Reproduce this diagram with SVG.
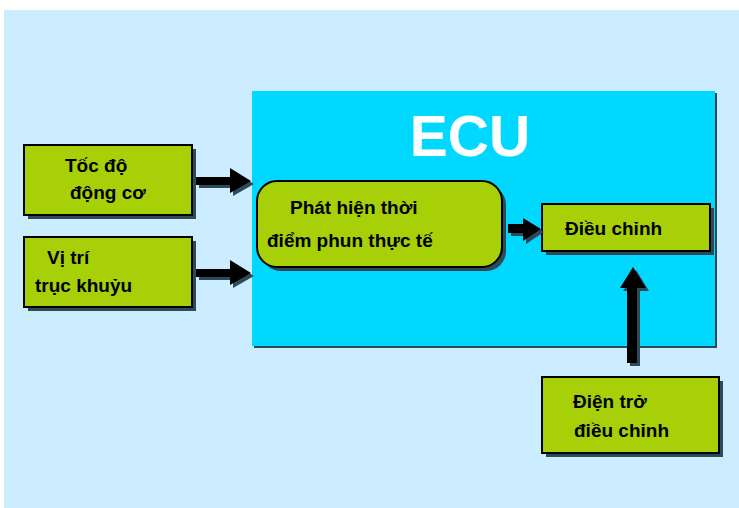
<svg xmlns="http://www.w3.org/2000/svg" width="739" height="508" viewBox="0 0 739 508">
  <style>
    .box { fill: #A8D008; stroke: #000; stroke-width: 2; }
    .shadow { fill: #2E4A58; }
    .lbl { font-family: "Liberation Sans", Arial, sans-serif; font-size: 19px; font-weight: bold; fill: #000; }
    .arrow { fill: #000; }
  </style>
  <defs>
    <polygon id="arrowRight" points="0,0 34,0 34,-9 55,4 34,16 34,8 0,8"/>
  </defs>

  <!-- page background -->
  <rect x="0" y="0" width="739" height="508" fill="#FFFFFF"/>
  <rect x="4" y="10" width="735" height="498" fill="#CCECFF"/>

  <!-- ECU block -->
  <g id="ecu">
    <rect x="254" y="93" width="463" height="255" class="shadow"/>
    <rect x="252" y="91" width="463" height="255" fill="#00D8FF"/>
    <text x="470" y="156" text-anchor="middle" font-family="Liberation Sans, Arial, sans-serif" font-size="57" font-weight="bold" fill="#FFFFFF">ECU</text>
  </g>

  <!-- inputs -->
  <g id="toc-do">
    <rect x="28" y="149" width="168" height="70" class="shadow"/>
    <rect x="24" y="145" width="168" height="70" class="box"/>
    <text x="65" y="172" class="lbl">Tốc độ</text>
    <text x="70" y="199" class="lbl">động cơ</text>
  </g>
  <g id="vi-tri">
    <rect x="28" y="241" width="168" height="70" class="shadow"/>
    <rect x="24" y="237" width="168" height="70" class="box"/>
    <text x="47" y="264" class="lbl">Vị trí</text>
    <text x="35" y="292" class="lbl">trục khuỷu</text>
  </g>

  <!-- processing -->
  <g id="phat-hien">
    <rect x="261" y="185" width="245" height="86" rx="20" ry="20" class="shadow"/>
    <rect x="257" y="181" width="245" height="86" rx="20" ry="20" class="box"/>
    <text x="290" y="214" class="lbl">Phát hiện thời</text>
    <text x="267" y="247" class="lbl">điểm phun thực tế</text>
  </g>
  <g id="dieu-chinh">
    <rect x="546" y="208" width="168" height="47" class="shadow"/>
    <rect x="542" y="204" width="168" height="47" class="box"/>
    <text x="565" y="235" class="lbl">Điều chỉnh</text>
  </g>
  <g id="dien-tro">
    <rect x="546" y="381" width="177" height="76" class="shadow"/>
    <rect x="542" y="377" width="177" height="76" class="box"/>
    <text x="573" y="408" class="lbl">Điện trở</text>
    <text x="574" y="437" class="lbl">điều chỉnh</text>
  </g>

  <!-- connectors -->
  <g id="connectors">
    <use href="#arrowRight" transform="translate(199,180)" class="shadow"/>
    <use href="#arrowRight" transform="translate(196,177)" class="arrow"/>
    <use href="#arrowRight" transform="translate(199,272)" class="shadow"/>
    <use href="#arrowRight" transform="translate(196,269)" class="arrow"/>
    <polygon points="511,227 526,227 526,221 544,232 526,244 526,236 511,236" class="shadow"/>
    <polygon points="508,224 523,224 523,218 541,229 523,241 523,233 508,233" class="arrow"/>
    <polygon points="630,366 630,291 623,291 636,270 649,291 640,291 640,366" class="shadow"/>
    <polygon points="627,363 627,288 620,288 633,267 646,288 637,288 637,363" class="arrow"/>
  </g>
</svg>
